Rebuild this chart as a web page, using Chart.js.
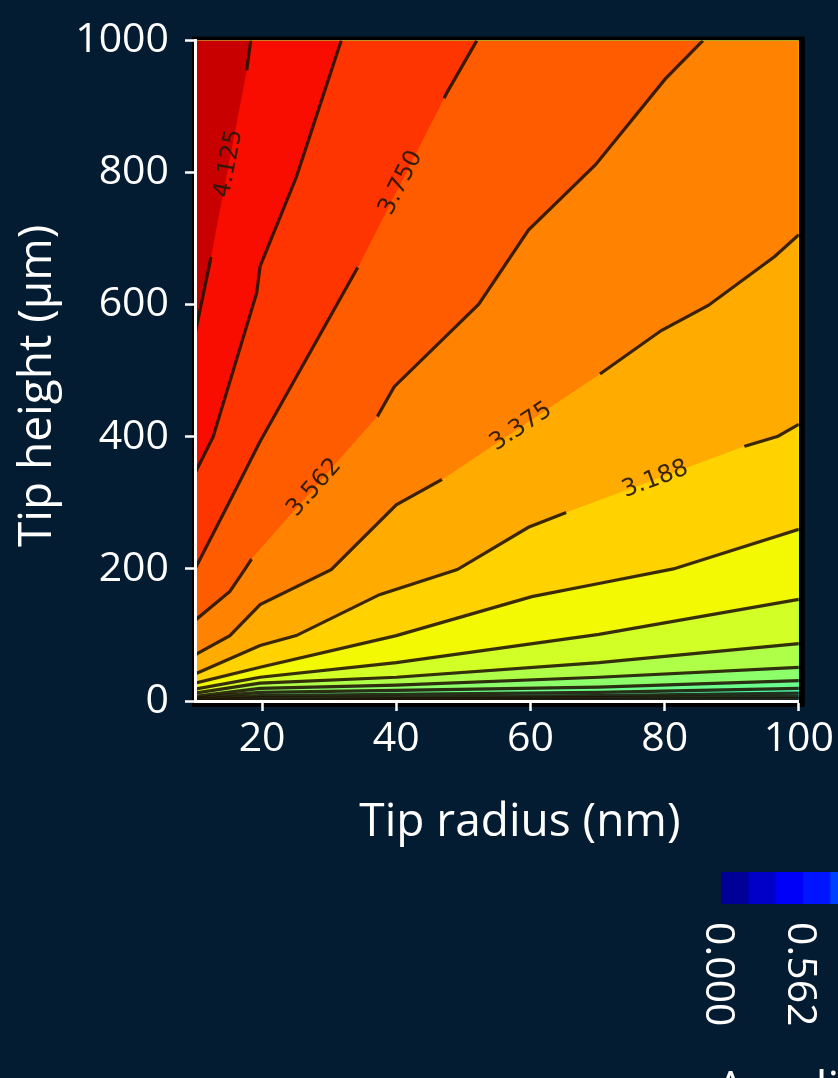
<!DOCTYPE html>
<html>
<head>
<meta charset="utf-8">
<title>Tip amplification factor contour</title>
<script src="https://cdn.jsdelivr.net/npm/chart.js@4.4.1/dist/chart.umd.min.js"></script>
<style>
    html, body { margin: 0; padding: 0; background: #041c32; }
    #wrap { width: 838px; height: 1078px; }
</style>
</head>
<body>
<div id="wrap"><canvas id="contourChart" width="838" height="1078"></canvas></div>
<script>
// Contour levels of the amplification factor (step 0.1875)
const levels = [0, 0.1875, 0.375, 0.5625, 0.75, 0.9375, 1.125, 1.3125, 1.5, 1.6875, 1.875, 2.0625,
    2.25, 2.4375, 2.625, 2.8125, 3.0, 3.1875, 3.375, 3.5625, 3.75, 3.9375, 4.125, 4.3125, 4.5];
const xTicks = [20, 40, 60, 80, 100];
const yTicks = [0, 200, 400, 600, 800, 1000];
const cbarTickLabels = ['0.000', '0.562', '1.125', '1.688', '2.250', '2.812', '3.375', '3.938', '4.500'];

// Contour lines: x = tip radius (nm), y = tip height (um)
const line4125 = [{x: 10, y: 555}, {x: 12.2, y: 663}, {x: 17.7, y: 954}, {x: 18.3, y: 1000}, {x: 100, y: 1000}];
const line3938 = [{x: 10, y: 345}, {x: 12.7, y: 400}, {x: 19.2, y: 618}, {x: 19.7, y: 658}, {x: 25.1, y: 793},
    {x: 31.8, y: 1000}, {x: 100, y: 1000}];
const line3750 = [{x: 10, y: 200}, {x: 15.2, y: 303}, {x: 19.7, y: 393}, {x: 34.5, y: 661}, {x: 47.6, y: 922},
    {x: 52, y: 1000}, {x: 100, y: 1000}];
const line3562 = [{x: 10, y: 122}, {x: 15.2, y: 166}, {x: 17.4, y: 199}, {x: 18.5, y: 216}, {x: 37.2, y: 431},
    {x: 39.7, y: 476}, {x: 52.3, y: 601}, {x: 59.7, y: 713}, {x: 69.7, y: 812}, {x: 80.1, y: 942},
    {x: 85.7, y: 1000}, {x: 100, y: 1000}];
const line3375 = [{x: 10, y: 70}, {x: 15.2, y: 99}, {x: 19.7, y: 146}, {x: 30.3, y: 199}, {x: 40, y: 297},
    {x: 47.1, y: 337}, {x: 70.2, y: 494}, {x: 79.5, y: 561}, {x: 86.5, y: 599}, {x: 96.4, y: 673}, {x: 100, y: 706}];
const line3188 = [{x: 10, y: 41}, {x: 19.7, y: 84}, {x: 25.1, y: 99}, {x: 37.5, y: 161}, {x: 49.1, y: 199},
    {x: 59.7, y: 263}, {x: 66, y: 288}, {x: 91.7, y: 385}, {x: 96.9, y: 401}, {x: 100, y: 419}];
const line3000 = [{x: 10, y: 27}, {x: 19.7, y: 51}, {x: 40, y: 99}, {x: 60.2, y: 158}, {x: 70.2, y: 178},
    {x: 81.3, y: 200}, {x: 100, y: 260}];
const line2812 = [{x: 10, y: 18}, {x: 19.7, y: 36}, {x: 40, y: 58}, {x: 70.2, y: 101}, {x: 100, y: 154}];
const line2625 = [{x: 10, y: 12}, {x: 19.7, y: 27}, {x: 40, y: 36}, {x: 70.2, y: 58}, {x: 100, y: 87}];
const line2438 = [{x: 10, y: 7}, {x: 19.7, y: 19}, {x: 40, y: 24}, {x: 70.2, y: 36}, {x: 100, y: 51}];
const line2250 = [{x: 10, y: 5}, {x: 19.7, y: 13}, {x: 40, y: 16}, {x: 70.2, y: 21}, {x: 100, y: 31}];
const line2062 = [{x: 10, y: 3}, {x: 19.7, y: 8}, {x: 40, y: 10}, {x: 70.2, y: 13}, {x: 100, y: 19}];
const line1875 = [{x: 10, y: 2}, {x: 19.7, y: 5}, {x: 40, y: 6}, {x: 70.2, y: 8}, {x: 100, y: 12}];
const line1688 = [{x: 10, y: 1}, {x: 40, y: 3.5}, {x: 100, y: 7}];
const line1500 = [{x: 10, y: 0.5}, {x: 100, y: 3.5}];

// Highest level first: Chart.js draws dataset 0 last, so each fill covers only the region above its own line
const contourLines = [
    {level: 4.125, points: line4125, label: '4.125', labelAt: 15.05},
    {level: 3.9375, points: line3938},
    {level: 3.75, points: line3750, label: '3.750', labelAt: 40.7},
    {level: 3.5625, points: line3562, label: '3.562', labelAt: 27.8},
    {level: 3.375, points: line3375, label: '3.375', labelAt: 58.6},
    {level: 3.1875, points: line3188, label: '3.188', labelAt: 78.6},
    {level: 3.0, points: line3000},
    {level: 2.8125, points: line2812},
    {level: 2.625, points: line2625},
    {level: 2.4375, points: line2438},
    {level: 2.25, points: line2250},
    {level: 2.0625, points: line2062},
    {level: 1.875, points: line1875},
    {level: 1.6875, points: line1688},
    {level: 1.5, points: line1500}
];

const LINE_COLOR = 'rgba(32, 18, 4, 0.88)';
const LABEL_FONT = '24px "DejaVu Sans"';
const TICK_FONT = {family: 'Open Sans', size: 41};
const TITLE_FONT = '46px "Open Sans"';

// matplotlib "jet" colormap segments
const jetStops = {
    r: [[0, 0], [0.35, 0], [0.66, 1], [0.89, 1], [1, 0.5]],
    g: [[0, 0], [0.125, 0], [0.375, 1], [0.64, 1], [0.91, 0], [1, 0]],
    b: [[0, 0.5], [0.11, 1], [0.34, 1], [0.65, 0], [1, 0]]
};

function interpStops(stops, t) {
    for (let i = 0; i < stops.length - 1; i++) {
        const [t0, v0] = stops[i];
        const [t1, v1] = stops[i + 1];
        if (t >= t0 && t <= t1) return v0 + (v1 - v0) * (t - t0) / (t1 - t0);
    }
    return stops[stops.length - 1][1];
}

function jet(t) {
    const c = ['r', 'g', 'b'].map(k => Math.round(255 * interpStops(jetStops[k], t)));
    return `rgb(${c[0]}, ${c[1]}, ${c[2]})`;
}

// Colour of the band between levels[k] and levels[k + 1]
function bandColor(k) {
    const vmax = levels[levels.length - 1];
    return jet((levels[k] + levels[k + 1]) / 2 / vmax);
}

/**
 * Pixel position and angle of a contour label, taken on its own line
 */
function labelGeometry(chart, c) {
    const xs = chart.scales.x, ys = chart.scales.y;
    const pts = c.points;
    for (let i = 0; i < pts.length - 1; i++) {
        const a = pts[i], b = pts[i + 1];
        if (c.labelAt >= a.x && c.labelAt <= b.x) {
            const f = (c.labelAt - a.x) / (b.x - a.x);
            const ax = xs.getPixelForValue(a.x), ay = ys.getPixelForValue(a.y);
            const bx = xs.getPixelForValue(b.x), by = ys.getPixelForValue(b.y);
            return {
                x: xs.getPixelForValue(c.labelAt),
                y: ys.getPixelForValue(a.y + f * (b.y - a.y)),
                angle: Math.atan2(by - ay, bx - ax)
            };
        }
    }
    return null;
}

// Cut the contour line where its label sits (fill is already drawn by the Filler plugin)
const labelGapPlugin = {
    id: 'labelGaps',
    beforeDatasetDraw(chart, args) {
        const ctx = chart.ctx;
        ctx.save();
        const c = contourLines[args.index];
        if (!c || !c.label) return;
        const g = labelGeometry(chart, c);
        if (!g) return;
        const w = 190, h = 24;
        const cos = Math.cos(g.angle), sin = Math.sin(g.angle);
        const corners = [[-w / 2, -h / 2], [w / 2, -h / 2], [w / 2, h / 2], [-w / 2, h / 2]]
            .map(([u, v]) => [g.x + u * cos - v * sin, g.y + u * sin + v * cos]);
        ctx.beginPath();
        ctx.rect(0, 0, chart.width, chart.height);
        ctx.moveTo(corners[0][0], corners[0][1]);
        for (let i = 1; i < 4; i++) ctx.lineTo(corners[i][0], corners[i][1]);
        ctx.closePath();
        ctx.clip('evenodd');
    },
    afterDatasetDraw(chart) {
        chart.ctx.restore();
    }
};

// Black frame behind the plot; plot background: an orange band on top, the lowest band at the very bottom
const framePlugin = {
    id: 'frame',
    beforeDatasetsDraw(chart) {
        const {ctx, chartArea: a} = chart;
        ctx.save();
        ctx.fillStyle = '#000';
        ctx.fillRect(a.left - 3, a.top - 4, a.right - a.left + 9, a.bottom - a.top + 10);
        ctx.fillStyle = bandColor(levels.indexOf(3.5625));
        ctx.fillRect(a.left, a.top, a.right - a.left, a.bottom - a.top);
        ctx.fillStyle = bandColor(levels.indexOf(contourLines[contourLines.length - 1].level) - 1);
        ctx.fillRect(a.left, a.bottom - 12, a.right - a.left, 12);
        ctx.restore();
    }
};

// Contour labels, axis titles and the colour bar
const decorPlugin = {
    id: 'decor',
    afterDraw(chart) {
        const {ctx, chartArea: a} = chart;
        ctx.save();

        // contour labels
        ctx.font = LABEL_FONT;
        ctx.fillStyle = 'rgba(40, 24, 8, 0.92)';
        ctx.textAlign = 'center';
        ctx.textBaseline = 'middle';
        contourLines.filter(c => c.label).forEach(c => {
            const g = labelGeometry(chart, c);
            if (!g) return;
            ctx.save();
            ctx.translate(g.x, g.y);
            ctx.rotate(g.angle);
            ctx.fillText(c.label, 0, 0);
            ctx.restore();
        });

        // axis titles
        ctx.fillStyle = '#ffffff';
        ctx.font = TITLE_FONT;
        ctx.textAlign = 'center';
        ctx.textBaseline = 'alphabetic';
        ctx.fillText('Tip radius (nm)', (a.left + a.right) / 2 + 23, 836);
        ctx.save();
        ctx.translate(51, (a.top + a.bottom) / 2 + 15);
        ctx.rotate(-Math.PI / 2);
        ctx.fillText('Tip height (\u03bcm)', 0, 0);
        ctx.restore();

        // colour bar
        const cbLeft = 721, cbTop = 872, cbHeight = 32, band = 27.33;
        for (let k = 0; k < levels.length - 1; k++) {
            ctx.fillStyle = bandColor(k);
            ctx.fillRect(cbLeft + k * band, cbTop, band + 0.6, cbHeight);
        }
        ctx.fillStyle = '#ffffff';
        ctx.font = TICK_FONT.size + 'px "' + TICK_FONT.family + '"';
        ctx.textAlign = 'left';
        cbarTickLabels.forEach((t, i) => {
            ctx.save();
            ctx.translate(cbLeft + i * 3 * band - 15, 922);
            ctx.rotate(Math.PI / 2);
            ctx.fillText(t, 0, 0);
            ctx.restore();
        });
        ctx.font = TITLE_FONT;
        ctx.fillText('Amplification factor', 716, 1104);

        ctx.restore();
    }
};

function buildChart() {
    const datasets = contourLines.map(c => {
        const k = levels.indexOf(c.level);
        return {
            label: c.label || String(c.level),
            data: c.points,
            showLine: true,
            pointRadius: 0,
            borderColor: LINE_COLOR,
            borderWidth: 3.2,
            backgroundColor: bandColor(k),
            fill: 'end',
            clip: 0,
            segment: {
                // no stroke where the line runs along the top edge
                borderColor: s => (c.points[s.p0DataIndex].y >= 1000 && c.points[s.p1DataIndex].y >= 1000)
                    ? 'rgba(0,0,0,0)' : undefined
            }
        };
    });

    const axisCommon = {
        grid: {drawOnChartArea: false, drawTicks: true, tickLength: 10, tickColor: '#ffffff', tickWidth: 2.5, z: 1},
        border: {display: true, color: '#ffffff', width: 3, z: 1}
    };

    new Chart(document.getElementById('contourChart'), {
        type: 'scatter',
        data: {datasets},
        options: {
            responsive: false,
            devicePixelRatio: 1,
            animation: false,
            events: [],
            layout: {padding: {top: 31, right: 37, bottom: 227, left: 0}},
            plugins: {legend: {display: false}, tooltip: {enabled: false}},
            scales: {
                x: {
                    type: 'linear',
                    min: 10,
                    max: 100,
                    afterBuildTicks: s => { s.ticks = xTicks.map(v => ({value: v})); },
                    afterFit: s => { s.height = 150; },
                    ticks: {color: '#ffffff', font: TICK_FONT, padding: 4, maxRotation: 0, autoSkip: false,
                        callback: v => String(v), z: 1},
                    ...axisCommon
                },
                y: {
                    type: 'linear',
                    min: 0,
                    max: 1000,
                    afterBuildTicks: s => { s.ticks = yTicks.map(v => ({value: v})); },
                    afterFit: s => { s.width = 195; },
                    ticks: {color: '#ffffff', font: TICK_FONT, padding: 16, autoSkip: false,
                        callback: v => String(v), z: 1},
                    ...axisCommon
                }
            }
        },
        plugins: [framePlugin, labelGapPlugin, decorPlugin]
    });
}

// Wait for the local fonts before drawing
Promise.all(['41px "Open Sans"', '46px "Open Sans"', '24px "DejaVu Sans"'].map(f => document.fonts.load(f)))
    .catch(() => {})
    .then(buildChart);
</script>
</body>
</html>
